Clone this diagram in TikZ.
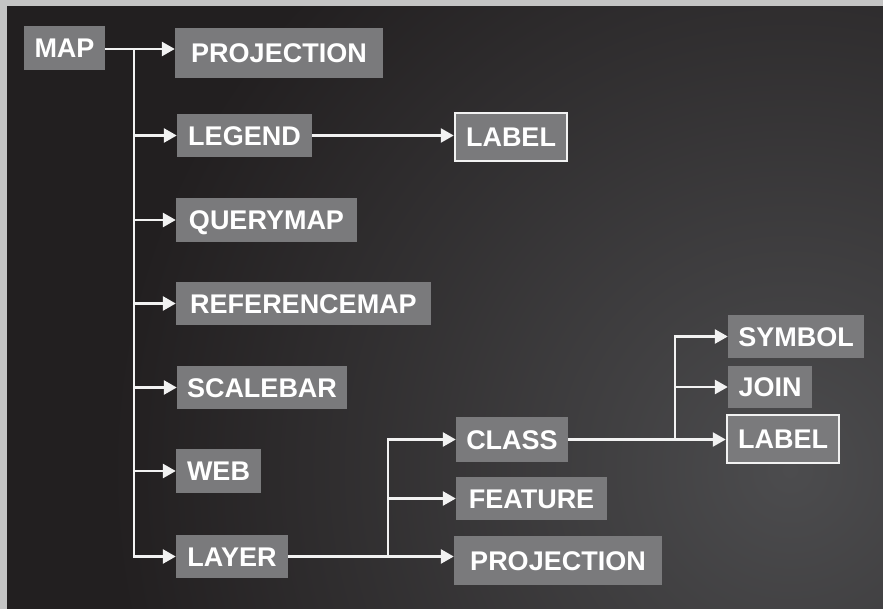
\documentclass[tikz,border=0pt]{standalone}
\usepackage{fontspec}
\setmainfont{Liberation Sans}
\usetikzlibrary{arrows.meta}
\definecolor{bgout}{HTML}{C4C4C4}
\definecolor{panel}{HTML}{221F20}
\definecolor{panellight}{HTML}{4C4C4E}
\definecolor{boxgrey}{HTML}{7A7A7C}
\definecolor{linewhite}{HTML}{F2F2F2}
\tikzset{
  box/.style={fill=boxgrey, text=white, inner sep=0pt, font=\fontsize{27}{27}\selectfont\bfseries, text height=19.5pt, text depth=0pt},
  framed/.style={box, draw=linewhite, line width=2.5pt},
  conn/.style={draw=linewhite, line width=2.6pt},
  arr/.style={conn, -{Triangle[length=13pt,width=14pt]}},
}
\newcommand{\bx}[7][box]{%
  \node[#1, minimum width={#5-#3}, minimum height={#6-#4}] (#2) at ({(#3+#5)/2},{(#4+#6)/2}) {#7};}
\begin{document}
\begin{tikzpicture}[x=1pt,y=-1pt]
\useasboundingbox (0,0) rectangle (883,609);
\fill[panel] (0,0) rectangle (883,609);
\begin{scope}
\clip (7,6) rectangle (883,609);
\shade[inner color=panellight, outer color=panel] (790,470) circle[radius=680];
\end{scope}
\fill[bgout] (0,0) rectangle (883,6);
\fill[bgout] (0,0) rectangle (7,609);
% boxes
\bx{map}{24}{26}{105}{70}{MAP}
\bx{projA}{175}{28}{383}{78}{PROJECTION}
\bx{legend}{177}{114}{312}{157}{LEGEND}
\bx[framed]{labelA}{455}{113}{567}{161}{LABEL}
\bx{querymap}{176}{198}{357}{242}{QUERYMAP}
\bx{refmap}{176}{282}{431}{325}{REFERENCEMAP}
\bx{scalebar}{177}{366}{347}{409}{SCALEBAR}
\bx{web}{176}{449}{261}{493}{WEB}
\bx{layer}{176}{535}{288}{578}{LAYER}
\bx{class}{456}{417}{568}{462}{CLASS}
\bx{feature}{456}{477}{607}{520}{FEATURE}
\bx{projB}{454}{536}{662}{585}{PROJECTION}
\bx{symbol}{728}{315}{864}{358}{SYMBOL}
\bx{join}{728}{366}{812}{408}{JOIN}
\bx[framed]{labelB}{727}{415}{839}{463}{LABEL}
% trunk x positions
\coordinate (t1) at (134,49);
\coordinate (t2) at (388,0);
\coordinate (t3) at (675,0);
% connectors
\draw[arr] (map.east |- t1) -- (t1 -| projA.west);
\draw[arr] (t1) |- (layer.west);
\draw[arr] (t1 |- legend.west) -- (legend.west);
\draw[arr] (t1 |- querymap.west) -- (querymap.west);
\draw[arr] (t1 |- refmap.west) -- (refmap.west);
\draw[arr] (t1 |- scalebar.west) -- (scalebar.west);
\draw[arr] (t1 |- web.west) -- (web.west);
\draw[arr] (legend.east) -- (legend.east -| labelA.west);
\draw[arr] (layer.east) -- (layer.east -| projB.west);
\draw[arr] (t2 |- layer.east) -- (t2 |- class.west) -- (class.west);
\draw[arr] (t2 |- feature.west) -- (feature.west);
\draw[arr] (class.east) -- (class.east -| labelB.west);
\draw[arr] (t3 |- class.east) -- (t3 |- symbol.west) -- (symbol.west);
\draw[arr] (t3 |- join.west) -- (join.west);
\end{tikzpicture}
\end{document}
